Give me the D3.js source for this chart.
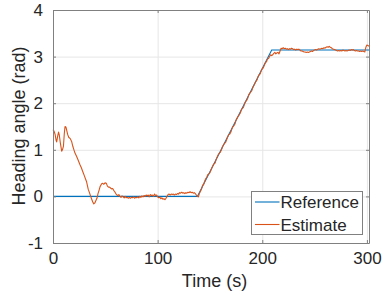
<!DOCTYPE html>
<html>
<head>
<meta charset="utf-8">
<script src="https://cdn.jsdelivr.net/npm/d3@7"></script>
<style>
  body { margin: 0; background: #fff; }
  text { font-family: "Liberation Sans", Arial, sans-serif; fill: #262626; }
</style>
</head>
<body>
<div id="chart"></div>
<script>
// reference heading (breakpoints)
var refTime = [0, 138, 209, 302];
var refAngle = [0, 0, 3.1416, 3.1416];

// estimated heading
var estTime = [0, 1, 2, 3, 3.5, 4.5, 5.3, 6, 7, 8.3, 9, 10, 10.8, 11.5, 12.3, 13, 14, 15, 16.5, 17.8, 19, 20, 21, 22.5, 24, 25.8, 27, 28.5, 30, 31, 32, 33.7, 35, 36, 37, 38, 39, 40, 41, 42, 43, 44, 45, 46.5, 47.5, 48.5, 49.7, 51, 52, 53, 54, 55, 56, 57, 58, 59, 60,
  61, 62, 63, 64, 65, 66, 67, 68, 69, 70, 71, 72, 73, 74, 75, 76, 77, 78, 79, 80, 81, 82, 83, 84, 85, 86, 87, 88, 89, 90, 91, 92, 93, 94, 95, 96, 97, 98, 99, 100,
  101, 102, 103, 104, 105, 106, 107, 108, 109, 110, 111, 112, 113, 114, 115, 116, 117, 118, 119, 120, 121, 122, 123, 124, 125, 126, 127, 128, 129, 130, 131, 132, 133, 134, 135, 136, 137, 138, 139,
  140, 142, 143, 144, 145, 146, 147, 148, 149, 150, 152, 153, 154, 155, 156, 158, 159, 160, 161, 162, 164, 165, 166, 167, 168, 169, 170, 171, 172, 173, 174, 175, 176, 177, 178, 179, 180,
  181, 182, 183, 184, 185, 186, 187, 188, 189, 190, 191, 192, 193, 194, 195, 196, 197, 198, 199, 200, 201, 202, 203, 204, 205, 206, 207, 208, 209, 210,
  211, 212, 213, 214, 215, 216, 217, 218, 219, 220, 221, 222, 223, 224, 225, 226, 227, 228, 229, 230, 231, 232, 233, 234, 235, 236, 237, 238, 239, 240,
  241, 242, 243, 244, 245, 246, 247, 248, 249, 250, 251, 252, 253, 254, 255, 256, 257, 258, 259, 260, 261, 262, 263, 264, 265, 266, 267, 268, 269, 270,
  271, 272, 273, 274, 275, 276, 277, 278, 279, 280, 281, 282, 283, 284, 285, 286, 287, 288, 289, 290, 291, 292, 293, 294, 295, 296, 297, 298, 299, 300, 301, 302];
var estAngle = [1.43, 1.40, 1.33, 1.20, 1.17, 1.30, 1.38, 1.32, 1.15, 0.97, 1.00, 1.08, 1.35, 1.50, 1.49, 1.43, 1.33, 1.27, 1.24, 1.18, 1.07, 1.00, 0.93, 0.86, 0.78, 0.68, 0.62, 0.53, 0.44, 0.38, 0.32, 0.15, 0.07, 0.0, -0.06, -0.12, -0.16, -0.14, -0.09, -0.04, 0.06, 0.13, 0.21, 0.27, 0.28, 0.26, 0.29, 0.28, 0.22, 0.20, 0.20, 0.18, 0.16, 0.17, 0.13, 0.10, 0.06,
  0.03, 0.02, 0.04, 0.0, -0.02, 0.01, -0.01, -0.03, 0.0, -0.03, -0.02, -0.04, -0.02, -0.04, -0.02, -0.03, -0.01, -0.04, -0.02, -0.03, -0.01, -0.03, 0.0, -0.02, 0.01, -0.01, 0.02, 0.0, 0.03, 0.01, 0.03, -0.01, 0.04, 0.02, 0.03, 0.0, 0.05, 0.02, 0.03, -0.01,
  -0.03, -0.01, -0.05, -0.03, -0.06, -0.05, -0.07, -0.04, 0.0, 0.04, 0.05, 0.03, 0.05, 0.04, 0.05, 0.03, 0.05, 0.04, 0.06, 0.05, 0.08, 0.07, 0.09, 0.07, 0.08, 0.06, 0.08, 0.07, 0.09, 0.08, 0.10, 0.08, 0.09, 0.07, 0.08, 0.06, 0.03, 0.0, -0.01,
  0.07, 0.16, 0.24, 0.26, 0.33, 0.38, 0.41, 0.47, 0.48, 0.51, 0.62, 0.67, 0.70, 0.72, 0.80, 0.90, 0.93, 0.95, 1.00, 1.07, 1.14, 1.16, 1.22, 1.28, 1.33, 1.34, 1.38, 1.45, 1.50, 1.52, 1.56, 1.64, 1.68, 1.72, 1.75, 1.79, 1.86,
  1.89, 1.91, 1.98, 2.03, 2.06, 2.10, 2.18, 2.21, 2.24, 2.27, 2.34, 2.38, 2.43, 2.47, 2.50, 2.57, 2.61, 2.63, 2.70, 2.74, 2.76, 2.82, 2.87, 2.89, 2.95, 2.96, 3.00, 3.04, 3.02, 3.04,
  3.07, 3.09, 3.06, 3.08, 3.09, 3.06, 3.12, 3.18, 3.17, 3.19, 3.17, 3.18, 3.16, 3.17, 3.15, 3.17, 3.16, 3.18, 3.17, 3.15, 3.16, 3.14, 3.16, 3.15, 3.16, 3.14, 3.12, 3.12, 3.11, 3.10,
  3.10, 3.09, 3.10, 3.09, 3.10, 3.11, 3.12, 3.11, 3.13, 3.14, 3.15, 3.14, 3.16, 3.17, 3.16, 3.17, 3.18, 3.17, 3.19, 3.18, 3.20, 3.21, 3.20, 3.22, 3.20, 3.19, 3.17, 3.16, 3.15, 3.14,
  3.13, 3.12, 3.13, 3.12, 3.13, 3.12, 3.14, 3.13, 3.12, 3.13, 3.12, 3.13, 3.14, 3.13, 3.15, 3.14, 3.15, 3.13, 3.12, 3.13, 3.12, 3.12, 3.11, 3.12, 3.11, 3.12, 3.11, 3.10, 3.20, 3.25, 3.24, 3.22];

var xTicks = [0, 100, 200, 300];
var yTicks = [-1, 0, 1, 2, 3, 4];
var seriesNames = ["Reference", "Estimate"];
var seriesColors = ["#0072BD", "#D95319"];

var width = 382, height = 293;
var margin = {top: 10, right: 13, bottom: 50, left: 53};

var x = d3.scaleLinear().domain([0, 302]).range([margin.left, width - margin.right]);
var y = d3.scaleLinear().domain([-1, 4]).range([height - margin.bottom, margin.top]);
var pw = width - margin.left - margin.right, ph = height - margin.top - margin.bottom;
var fmt = d => String(d);

var svg = d3.select("#chart").append("svg")
  .attr("width", width)
  .attr("height", height);

// grid
svg.append("g")
  .attr("transform", `translate(0,${height - margin.bottom})`)
  .call(d3.axisBottom(x).tickValues(xTicks).tickSize(-ph).tickFormat(""))
  .call(g => g.select(".domain").remove())
  .call(g => g.selectAll(".tick line").attr("stroke", "#e6e6e6"));
svg.append("g")
  .attr("transform", `translate(${margin.left},0)`)
  .call(d3.axisLeft(y).tickValues(yTicks).tickSize(-pw).tickFormat(""))
  .call(g => g.select(".domain").remove())
  .call(g => g.selectAll(".tick line").attr("stroke", "#e6e6e6"));

// lines
var refData = refTime.map((t, i) => [t, refAngle[i]]);
var estData = estTime.map((t, i) => [t, estAngle[i]]);
var line = d3.line().x(d => x(d[0])).y(d => y(d[1]));

svg.append("path").datum(refData)
  .attr("d", line).attr("fill", "none")
  .attr("stroke", seriesColors[0]).attr("stroke-width", 1.1);
svg.append("path").datum(estData)
  .attr("d", line).attr("fill", "none")
  .attr("stroke", seriesColors[1]).attr("stroke-width", 1.1)
  .attr("stroke-linejoin", "round");

// axes (ticks inward, box on)
var axisColor = "#808080";
function styleAxis(g) {
  g.select(".domain").attr("stroke", axisColor);
  g.selectAll(".tick line").attr("stroke", axisColor);
  g.selectAll(".tick text").attr("fill", "#262626").style("font-size", "17px")
    .style("font-family", "'Liberation Sans', Arial, sans-serif");
}
svg.append("g")
  .attr("transform", `translate(0,${height - margin.bottom})`)
  .call(d3.axisBottom(x).tickValues(xTicks).tickFormat(fmt).tickSizeInner(-3).tickSizeOuter(0).tickPadding(9))
  .call(styleAxis);
svg.append("g")
  .attr("transform", `translate(0,${margin.top})`)
  .call(d3.axisTop(x).tickValues(xTicks).tickSizeInner(-3).tickSizeOuter(0).tickFormat(""))
  .call(styleAxis);
svg.append("g")
  .attr("transform", `translate(${margin.left},0)`)
  .call(d3.axisLeft(y).tickValues(yTicks).tickFormat(fmt).tickSizeInner(-3).tickSizeOuter(0).tickPadding(10))
  .call(styleAxis);
svg.append("g")
  .attr("transform", `translate(${width - margin.right},0)`)
  .call(d3.axisRight(y).tickValues(yTicks).tickSizeInner(-3).tickSizeOuter(0).tickFormat(""))
  .call(styleAxis);

// axis labels
svg.append("text")
  .attr("x", 214.5).attr("y", 286.7)
  .attr("text-anchor", "middle")
  .style("font-size", "18px")
  .text("Time (s)");
svg.append("text")
  .attr("transform", "translate(25,126) rotate(-90)")
  .attr("text-anchor", "middle")
  .style("font-size", "18px")
  .text("Heading angle (rad)");

// legend
var leg = svg.append("g").attr("transform", "translate(251.5,191.5)");
leg.append("rect")
  .attr("width", 111).attr("height", 43)
  .attr("fill", "#fff").attr("stroke", axisColor);
seriesNames.forEach(function(name, i) {
  var yy = 10.5 + i * 22.5;
  leg.append("line")
    .attr("x1", 3.5).attr("x2", 28)
    .attr("y1", yy).attr("y2", yy)
    .attr("stroke", seriesColors[i]).attr("stroke-width", 1.1);
  leg.append("text")
    .attr("x", 29).attr("y", yy + 6)
    .style("font-size", "17px")
    .text(name);
});
</script>
</body>
</html>
